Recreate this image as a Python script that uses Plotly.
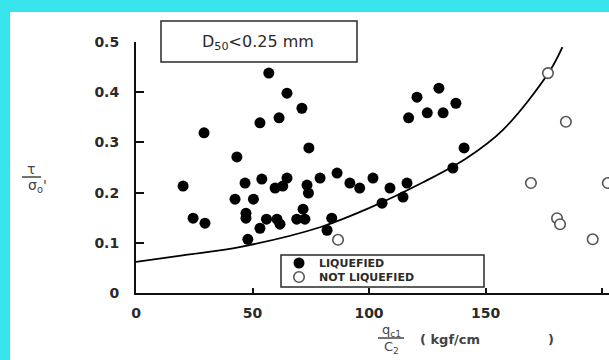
import plotly.graph_objects as go

# ---------------- data ----------------
liq_x = [57, 64.8, 71.2, 53.2, 61.4, 29.2, 74.2, 43.3,
         20.2, 86.3, 46.8, 54, 59.7, 64.8, 63, 73.4, 79, 74, 91.8, 96, 42.5, 50.4,
         24.5, 29.6, 47.2, 47.2, 56, 60.5, 61.8, 53.2, 69, 72.5, 71.7, 84, 82, 48,
         130, 120.6, 137.3, 125, 131.8, 117, 140.8, 136, 116.3, 109, 114.6, 105.6, 101.7]
liq_y = [0.438, 0.398, 0.368, 0.339, 0.349, 0.319, 0.289, 0.271,
         0.213, 0.239, 0.219, 0.227, 0.209, 0.229, 0.213, 0.215, 0.229, 0.199, 0.219, 0.209, 0.187, 0.187,
         0.149, 0.139, 0.159, 0.149, 0.147, 0.147, 0.137, 0.129, 0.147, 0.147, 0.167, 0.149, 0.125, 0.107,
         0.408, 0.390, 0.378, 0.359, 0.359, 0.349, 0.289, 0.249, 0.219, 0.209, 0.191, 0.179, 0.229]

notliq_x = [86.7, 176.8, 184.5, 169.5, 202.5, 180.7, 182, 196]
notliq_y = [0.106, 0.438, 0.341, 0.219, 0.219, 0.149, 0.137, 0.107]

curve_x = [0, 20, 45, 79, 100, 123, 142, 157.5, 177, 183]
curve_y = [0.062, 0.075, 0.092, 0.131, 0.169, 0.220, 0.269, 0.325, 0.438, 0.490]

x_ticks = [0, 50, 100, 150, 200]
y_ticks = [0, 0.1, 0.2, 0.3, 0.4, 0.5]
y_tick_text = ["0", "0.1", "0.2", "0.3", "0.4", "0.5"]

# ---------------- layout helpers (pixel -> paper) ----------------
W, H = 609, 360
L, R, T, B = 136, 0, 42, 67
PW, PH = W - L - R, H - T - B


def px(v):
    return (v - L) / PW


def py(v):
    return (H - B - v) / PH


CYAN = "#38E4EC"
INK = "#2a2a2a"
FONT = "DejaVu Sans"

fig = go.Figure()

fig.add_trace(go.Scatter(
    x=curve_x, y=curve_y, mode="lines", line=dict(color="black", width=1.8, shape="spline"),
    showlegend=False, hoverinfo="skip"))

fig.add_trace(go.Scatter(
    x=liq_x, y=liq_y, mode="markers", name="LIQUEFIED",
    marker=dict(color="black", size=11, line=dict(width=0)), legend="legend"))

fig.add_trace(go.Scatter(
    x=notliq_x, y=notliq_y, mode="markers", name="NOT LIQUEFIED",
    marker=dict(color="white", size=10.5, line=dict(color="#555", width=1.6)), legend="legend2"))

shapes = [
    # white page over cyan border
    dict(type="rect", xref="paper", yref="paper", x0=px(10), x1=px(W + 5), y0=py(12), y1=py(H + 5),
         fillcolor="white", line=dict(width=0), layer="below"),
    # D50 box
    dict(type="rect", xref="paper", yref="paper", x0=px(161), x1=px(357), y0=py(21), y1=py(62),
         line=dict(color=INK, width=1.5), fillcolor="rgba(0,0,0,0)"),
    # legend box
    dict(type="rect", xref="paper", yref="paper", x0=px(281), x1=px(484), y0=py(255), y1=py(287),
         line=dict(color=INK, width=1.5), fillcolor="rgba(0,0,0,0)"),
    # fraction bars
    dict(type="line", xref="paper", yref="paper", x0=px(22), x1=px(41), y0=py(177), y1=py(177),
         line=dict(color="#444", width=1.5)),
    dict(type="line", xref="paper", yref="paper", x0=px(378), x1=px(404), y0=py(338), y1=py(338),
         line=dict(color="#444", width=1.5)),
]

annotations = [
    dict(text="D<sub>50</sub>&lt;0.25 mm", x=px(258), y=py(42), font=dict(family=FONT, color=INK, size=16)),
    dict(text="τ", x=px(31), y=py(169), font=dict(family=FONT, color="#444", size=14)),
    dict(text="σ<sub>o</sub>'", x=px(37), y=py(186), font=dict(family=FONT, color="#444", size=14)),
    dict(text="q<sub>c1</sub>", x=px(391), y=py(330), font=dict(family=FONT, color="#444", size=13)),
    dict(text="C<sub>2</sub>", x=px(391), y=py(347), font=dict(family=FONT, color="#444", size=13)),
    dict(text="( kgf/cm", x=px(418), y=py(339), xanchor="left", font=dict(family=FONT, color="#444", size=13, weight="bold")),
    dict(text=")", x=px(551), y=py(339), font=dict(family=FONT, color="#444", size=13, weight="bold")),
]
for a in annotations:
    a.update(xref="paper", yref="paper", showarrow=False)
    a.setdefault("xanchor", "center")
    a["yanchor"] = "middle"

leg_font = dict(family=FONT, color=INK, size=11, weight="bold")
fig.update_layout(
    width=W, height=H,
    margin=dict(l=L, r=R, t=T, b=B, pad=0),
    paper_bgcolor=CYAN, plot_bgcolor="white",
    shapes=shapes, annotations=annotations,
    legend=dict(x=px(279), y=py(263), xanchor="left", yanchor="middle", bgcolor="rgba(0,0,0,0)",
                borderwidth=0, font=leg_font),
    legend2=dict(x=px(279), y=py(277), xanchor="left", yanchor="middle", bgcolor="rgba(0,0,0,0)",
                 borderwidth=0, font=leg_font),
    xaxis=dict(range=[0, 203], tickvals=x_ticks, ticktext=[str(v) for v in x_ticks],
               showgrid=False, zeroline=False, showline=True, linecolor="#111", linewidth=2,
               ticks="inside", ticklen=5, tickwidth=1.5, tickcolor="#111",
               tickfont=dict(family=FONT, color=INK, size=14, weight="bold"), ticklabelstandoff=6),
    yaxis=dict(range=[0, 0.5], tickvals=y_ticks, ticktext=y_tick_text,
               showgrid=False, zeroline=False, showline=True, linecolor="#111", linewidth=2,
               ticks="inside", ticklen=8, tickwidth=1.5, tickcolor="#111",
               tickfont=dict(family=FONT, color=INK, size=14, weight="bold"), ticklabelstandoff=12),
)

fig.write_html("out.html")
